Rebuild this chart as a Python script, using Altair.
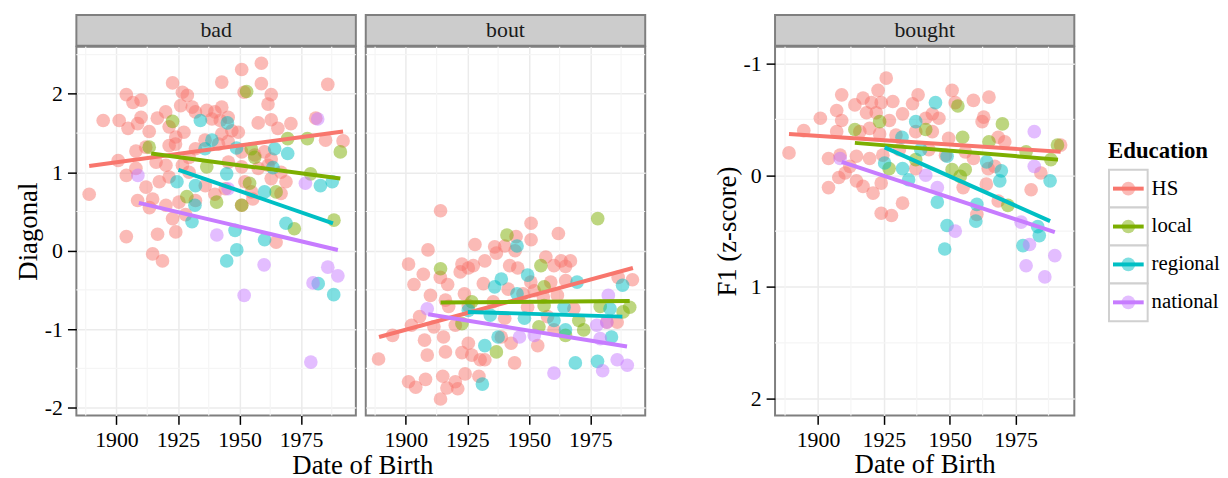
import altair as alt
import pandas as pd

SERIF = "Liberation Serif"

levels = ["HS", "local", "regional", "national"]
colors = ["#F8766D", "#7CAE00", "#00BFC4", "#C77CFF"]

x_domain = [1883.7, 1997.3]
x_ticks = [1900, 1925, 1950, 1975]
x_minor = [1887.5, 1912.5, 1937.5, 1962.5, 1987.5]

diag_domain = [-2.1, 2.6]
diag_ticks = [-2, -1, 0, 1, 2]
diag_minor = [-1.5, -0.5, 0.5, 1.5, 2.5]

f1_domain = [-1.15, 2.15]
f1_ticks = [-1, 0, 1, 2]
f1_minor = [-0.5, 0.5, 1.5]

# ---------------- panel "bad" (Diagonal) ----------------
bad_hs = [(1958.9, 2.39), (1950.9, 2.31), (1942.8, 2.15), (1922.8, 2.14), (1985.9, 2.12), (1958.9, 2.13),
          (1904.0, 1.99), (1926.8, 2.02), (1928.8, 1.98), (1951.9, 2.02), (1962.9, 1.99), (1906.7, 1.89),
          (1910.0, 1.92), (1926.1, 1.85), (1930.8, 1.83), (1961.6, 1.87), (1894.6, 1.66), (1901.1, 1.66),
          (1910.0, 1.70), (1916.6, 1.69), (1920.0, 1.77), (1932.1, 1.77), (1936.7, 1.79), (1940.0, 1.77),
          (1942.8, 1.83), (1945.4, 1.70), (1938.8, 1.68), (1942.2, 1.66), (1904.7, 1.56), (1908.6, 1.62),
          (1913.3, 1.52), (1921.4, 1.58), (1927.4, 1.51), (1924.1, 1.45), (1957.6, 1.63), (1962.9, 1.67),
          (1965.6, 1.56), (1970.9, 1.62), (1981.0, 1.69), (1946.9, 1.53), (1949.5, 1.51), (1942.8, 1.49),
          (1985.0, 1.41), (1992.1, 1.40), (1907.9, 1.27), (1911.9, 1.32), (1921.4, 1.34), (1924.0, 1.36),
          (1932.1, 1.30), (1936.0, 1.41), (1941.5, 1.36), (1945.4, 1.39), (1950.9, 1.26), (1956.2, 1.22),
          (1960.2, 1.26), (1962.9, 1.17), (1900.7, 1.15), (1907.9, 1.05), (1916.1, 1.13), (1920.1, 1.09),
          (1926.8, 1.09), (1929.5, 1.19), (1945.5, 1.13), (1950.9, 1.07), (1957.6, 1.05), (1961.6, 1.09),
          (1966.9, 1.00), (1904.0, 0.96), (1912.0, 0.81), (1917.4, 0.88), (1921.4, 0.94), (1929.5, 1.00),
          (1936.1, 0.83), (1940.0, 0.72), (1944.2, 0.79), (1952.2, 0.88), (1954.9, 0.75), (1962.9, 0.92),
          (1968.9, 0.88), (1966.9, 0.73), (1888.9, 0.72), (1908.6, 0.64), (1914.7, 0.66), (1920.1, 0.58),
          (1925.4, 0.62), (1932.1, 0.64), (1913.4, 0.55), (1922.8, 0.41), (1928.1, 0.46), (1950.9, 0.58),
          (1955.4, 0.66), (1904.0, 0.18), (1916.7, 0.21), (1924.1, 0.24), (1914.7, -0.04), (1918.7, -0.13),
          (1964.9, 0.11)]
bad_local = [(1922.8, 1.65), (1952.9, 2.03), (1969.6, 1.43), (1977.6, 1.43), (1991.0, 1.26), (1954.8, 1.30),
             (1956.2, 1.19), (1936.7, 1.07), (1978.9, 0.98), (1954.1, 0.86), (1964.9, 0.75), (1940.7, 0.62),
             (1928.6, 0.69), (1950.9, 0.58), (1988.4, 0.39), (1972.3, 0.28), (1913.3, 1.32)]
bad_regional = [(1934.1, 1.66), (1945.1, 1.63), (1938.8, 1.41), (1936.0, 1.30), (1948.8, 1.31), (1969.6, 1.24),
                (1964.3, 1.30), (1944.8, 0.98), (1963.6, 1.06), (1924.6, 0.88), (1932.1, 0.83), (1960.2, 0.75),
                (1982.9, 0.83), (1987.7, 0.88), (1931.9, 0.58), (1930.7, 0.37), (1968.9, 0.35), (1948.2, 0.26),
                (1960.2, 0.14), (1948.9, 0.01), (1944.8, -0.13), (1982.0, -0.42), (1988.3, -0.56)]
bad_national = [(1908.7, 0.96), (1981.8, 1.68), (1976.8, 0.86), (1945.4, 0.79), (1940.8, 0.20), (1960.0, -0.18),
                (1985.9, -0.21), (1990.0, -0.32), (1979.9, -0.41), (1951.9, -0.57), (1979.0, -1.42)]
bad_fit_x0 = [1888.9, 1914.1, 1925.2, 1909.1]
bad_fit_x1 = [1992.1, 1991.0, 1988.0, 1990.0]
bad_fit_y0 = [1.08, 1.24, 1.03, 0.61]
bad_fit_y1 = [1.52, 0.92, 0.35, 0.01]

# ---------------- panel "bout" (Diagonal) ----------------
bout_hs = [(1914.1, 0.51), (1950.9, 0.35), (1962.0, 0.22), (1944.8, 0.18), (1950.9, 0.14), (1928.1, 0.08),
           (1936.1, 0.05), (1909.0, 0.01), (1940.2, 0.06), (1936.8, -0.03), (1944.4, 0.00), (1901.1, -0.17),
           (1956.9, -0.08), (1963.1, -0.13), (1966.9, -0.13), (1960.2, -0.19), (1964.9, -0.20), (1932.1, -0.13),
           (1922.8, -0.17), (1925.4, -0.22), (1927.4, -0.19), (1922.1, -0.27), (1942.2, -0.19), (1945.5, -0.22),
           (1907.1, -0.30), (1914.0, -0.34), (1903.3, -0.43), (1917.0, -0.43), (1931.5, -0.42), (1950.8, -0.40),
           (1958.9, -0.40), (1965.0, -0.38), (1986.3, -0.34), (1992.1, -0.37), (1941.6, -0.49), (1947.6, -0.55),
           (1952.2, -0.51), (1910.0, -0.57), (1923.8, -0.55), (1916.1, -0.63), (1935.5, -0.65), (1955.9, -0.59),
           (1961.6, -0.57), (1968.3, -0.74), (1902.3, -0.95), (1905.6, -0.84), (1911.4, -0.97), (1920.1, -0.95),
           (1915.3, -1.10), (1907.6, -1.14), (1894.6, -1.08), (1888.9, -1.38), (1908.7, -1.33), (1916.1, -1.29),
           (1925.4, -1.18), (1922.8, -1.30), (1926.8, -1.33), (1930.2, -1.39), (1932.1, -1.39), (1938.8, -1.10),
           (1942.8, -1.18), (1953.6, -1.21), (1944.2, -1.43), (1960.2, -1.01), (1981.7, -0.91), (1985.9, -0.91),
           (1901.1, -1.67), (1904.0, -1.74), (1908.0, -1.64), (1915.0, -1.60), (1916.7, -1.75), (1920.1, -1.67),
           (1921.1, -1.76), (1924.1, -1.57), (1929.7, -1.60), (1914.1, -1.89), (1917.4, -0.71), (1925.4, -0.70),
           (1940.2, -0.86), (1949.5, -0.72), (1957.6, -0.84)]
bout_local = [(1978.0, 0.41), (1941.1, 0.20), (1954.9, -0.19), (1914.1, -0.23), (1956.2, -0.46), (1926.8, -0.65),
              (1956.2, -0.70), (1979.0, -0.71), (1991.0, -0.72), (1988.3, -0.78), (1970.3, -0.89), (1972.3, -1.01),
              (1964.9, -1.08), (1954.1, -0.97), (1936.8, -1.29), (1922.8, -0.93)]
bout_regional = [(1945.2, 0.06), (1949.5, -0.31), (1938.8, -0.36), (1936.1, -0.46), (1945.2, -0.55), (1969.6, -0.40),
                 (1988.1, -0.44), (1983.0, -0.74), (1964.3, -0.72), (1960.2, -0.89), (1948.2, -0.86), (1934.3, -0.82),
                 (1937.5, -1.10), (1964.9, -1.01), (1983.6, -1.10), (1932.1, -1.21), (1968.9, -1.43), (1977.9, -1.41),
                 (1931.1, -1.70), (1925.4, -0.76)]
bout_national = [(1908.7, -0.74), (1982.3, -0.57), (1977.6, -0.95), (1979.0, -1.12), (1981.7, -0.91), (1960.2, -1.56),
                 (1980.0, -1.53), (1985.9, -1.39), (1990.0, -1.46), (1946.2, -1.10), (1952.2, -1.08)]
bout_fit_x0 = [1889.1, 1914.1, 1925.2, 1909.1]
bout_fit_x1 = [1992.3, 1991.0, 1988.0, 1989.9]
bout_fit_y0 = [-1.10, -0.66, -0.78, -0.81]
bout_fit_y1 = [-0.22, -0.64, -0.84, -1.22]

# ---------------- panel "bought" (F1 z-score, reversed) ----------------
bought_hs = [(1925.9, -0.87), (1909.0, -0.72), (1917.1, -0.69), (1922.8, -0.76), (1920.3, -0.65), (1914.0, -0.63),
             (1924.0, -0.65), (1928.4, -0.66), (1907.1, -0.58), (1900.9, -0.51), (1909.0, -0.49), (1918.4, -0.56),
             (1922.1, -0.56), (1927.1, -0.49), (1932.1, -0.55), (1938.0, -0.72), (1935.9, -0.64), (1940.9, -0.51),
             (1943.4, -0.55), (1945.9, -0.51), (1950.9, -0.76), (1952.1, -0.65), (1959.0, -0.67), (1964.9, -0.70),
             (1962.9, -0.52), (1962.3, -0.48), (1894.6, -0.40), (1889.0, -0.20), (1907.1, -0.39), (1915.9, -0.39),
             (1919.6, -0.42), (1923.4, -0.37), (1929.6, -0.36), (1937.1, -0.39), (1943.4, -0.39), (1949.6, -0.33),
             (1968.4, -0.34), (1970.9, -0.30), (1992.1, -0.27), (1904.0, -0.15), (1908.4, -0.18), (1914.6, -0.17),
             (1919.6, -0.15), (1924.6, -0.18), (1930.9, -0.23), (1942.1, -0.23), (1948.4, -0.18), (1955.9, -0.21),
             (1959.0, -0.15), (1964.6, -0.06), (1967.1, -0.08), (1907.9, 0.02), (1904.0, 0.11), (1914.6, 0.05),
             (1917.1, 0.10), (1920.9, 0.16), (1924.0, 0.07), (1937.1, -0.06), (1955.1, 0.11), (1963.9, 0.08),
             (1980.9, 0.13), (1984.6, -0.02), (1932.1, 0.25), (1924.0, 0.34), (1927.9, 0.36), (1960.3, 0.35),
             (1968.4, 0.23), (1912.1, -0.08), (1910.3, -0.02)]
bought_local = [(1953.1, -0.62), (1970.0, -0.46), (1914.0, -0.41), (1923.4, -0.48), (1940.9, -0.41), (1954.9, -0.34),
                (1964.9, -0.30), (1979.0, -0.21), (1990.9, -0.27), (1988.4, -0.14), (1927.0, -0.06), (1955.9, -0.05),
                (1950.9, -0.05), (1954.0, 0.01), (1937.1, -0.14), (1972.1, 0.27)]
bought_regional = [(1944.6, -0.65), (1937.1, -0.48), (1931.9, -0.34), (1939.0, -0.23), (1949.0, -0.17), (1964.0, -0.12),
                   (1969.6, -0.04), (1969.0, 0.05), (1925.3, -0.11), (1932.1, -0.06), (1934.4, 0.04), (1945.3, 0.24),
                   (1960.3, 0.26), (1949.0, 0.45), (1959.9, 0.41), (1948.1, 0.66), (1977.8, 0.63), (1983.4, 0.46),
                   (1984.0, 0.54), (1988.1, 0.05)]
bought_national = [(1908.4, -0.15), (1982.1, -0.39), (1982.1, -0.08), (1940.9, 0.00), (1945.3, 0.11), (1952.1, 0.50),
                   (1977.1, 0.42), (1980.3, 0.62), (1989.9, 0.72), (1979.0, 0.81), (1986.1, 0.91)]
bought_fit_x0 = [1889.0, 1914.0, 1925.3, 1909.0]
bought_fit_x1 = [1992.1, 1991.1, 1988.1, 1989.9]
bought_fit_y0 = [-0.37, -0.29, -0.25, -0.12]
bought_fit_y1 = [-0.21, -0.14, 0.41, 0.51]


def points_frame(groups):
    rows = []
    for lvl, pairs in zip(levels, groups):
        for yr, val in pairs:
            rows.append({"year": yr, "value": val, "edu": lvl})
    return pd.DataFrame(rows)


def fit_frame(x0, x1, y0, y1):
    rows = []
    for lvl, a, b, c, d in zip(levels, x0, x1, y0, y1):
        rows.append({"year": a, "value": c, "edu": lvl})
        rows.append({"year": b, "value": d, "edu": lvl})
    return pd.DataFrame(rows)


color_enc = alt.Color("edu:N", scale=alt.Scale(domain=levels, range=colors), legend=None)
BORDER = alt.ViewBackground(fill="white", stroke="#7F7F7F", strokeWidth=2)


def panel(pts, fit, ydom, yvals, yminor, reverse, width, ytitle, ylabels, xtitle):
    xa = dict(values=x_ticks, labelExpr="'' + datum.value", grid=True)
    xa["title"] = xtitle if xtitle else None
    x_enc = alt.X("year:Q", scale=alt.Scale(domain=x_domain, nice=False, zero=False), axis=alt.Axis(**xa))
    if ylabels:
        yaxis = alt.Axis(values=yvals, labelExpr="'' + datum.value", title=ytitle, grid=True)
    else:
        yaxis = alt.Axis(values=yvals, labels=False, ticks=False, title=None, grid=True)
    ysc = dict(domain=ydom, nice=False, zero=False)
    if reverse:
        ysc["reverse"] = True
    y_enc = alt.Y("value:Q", scale=alt.Scale(**ysc), axis=yaxis)

    vminor = alt.Chart(pd.DataFrame({"year": x_minor})).mark_rule(color="#F5F5F5", strokeWidth=1.2).encode(x=x_enc)
    hminor = alt.Chart(pd.DataFrame({"value": yminor})).mark_rule(color="#F5F5F5", strokeWidth=1.2).encode(y=y_enc)
    dots = alt.Chart(pts).mark_circle(size=190, opacity=0.5).encode(x=x_enc, y=y_enc, color=color_enc)
    lines = alt.Chart(fit).mark_line(strokeWidth=4, strokeCap="butt").encode(
        x=x_enc, y=y_enc, color=color_enc, detail="edu:N")
    return alt.layer(vminor, hminor, dots, lines).properties(width=width, height=372, view=BORDER)


def strip(name, width):
    return alt.Chart(pd.DataFrame({"label": [name]})).mark_text(
        font=SERIF, fontSize=22, color="#1A1A1A", baseline="middle").encode(text="label:N").properties(
        width=width, height=31,
        view=alt.ViewBackground(fill="#CCCCCC", stroke="#7F7F7F", strokeWidth=2))


p_bad = panel(points_frame([bad_hs, bad_local, bad_regional, bad_national]),
              fit_frame(bad_fit_x0, bad_fit_x1, bad_fit_y0, bad_fit_y1),
              diag_domain, diag_ticks, diag_minor, False, 282, "Diagonal", True, None)
p_bout = panel(points_frame([bout_hs, bout_local, bout_regional, bout_national]),
               fit_frame(bout_fit_x0, bout_fit_x1, bout_fit_y0, bout_fit_y1),
               diag_domain, diag_ticks, diag_minor, False, 282, None, False, None)
p_bought = panel(points_frame([bought_hs, bought_local, bought_regional, bought_national]),
                 fit_frame(bought_fit_x0, bought_fit_x1, bought_fit_y0, bought_fit_y1),
                 f1_domain, f1_ticks, f1_minor, True, 302, "F1 (z-score)", True, "Date of Birth")

# ---------------- manual legend ----------------
legend_df = pd.DataFrame({"edu": levels})
ly = alt.Y("edu:N", sort=levels, scale=alt.Scale(domain=levels, paddingInner=0, paddingOuter=0), axis=None)
lbase = alt.Chart(legend_df)
box = lbase.mark_rect(fill="white", stroke="#D0D0D0", strokeWidth=2).encode(
    y=ly, x=alt.value(0), x2=alt.value(39))
ldot = lbase.mark_circle(size=190, opacity=0.5).encode(y=ly, x=alt.value(19.5), color=color_enc)
lbar = lbase.mark_rule(strokeWidth=4).encode(y=ly, x=alt.value(4), x2=alt.value(35), color=color_enc)
ltxt = lbase.mark_text(align="left", baseline="middle", font=SERIF, fontSize=21, color="black").encode(
    y=ly, x=alt.value(43), text="edu:N")
legend_chart = alt.layer(box, ldot, lbar, ltxt).properties(
    width=39, height=153,
    title=alt.TitleParams("Education", anchor="start", font=SERIF, fontSize=23, fontWeight="bold",
                          color="black", offset=6),
    view=alt.ViewBackground(strokeOpacity=0))
spacer = alt.Chart(pd.DataFrame({"s": [0]})).mark_point(opacity=0).properties(
    width=39, height=126, view=alt.ViewBackground(strokeOpacity=0))
legend_block = alt.vconcat(spacer, legend_chart, spacing=0)

left = alt.hconcat(alt.vconcat(strip("bad", 282), p_bad, spacing=-2),
                   alt.vconcat(strip("bout", 282), p_bout, spacing=-2), spacing=6,
                   title=alt.TitleParams("Date of Birth", orient="bottom", anchor="middle", dx=33,
                                         font=SERIF, fontSize=27, fontWeight="normal", color="black",
                                         offset=2))
right = alt.hconcat(alt.vconcat(strip("bought", 302), p_bought, spacing=-2), legend_block, spacing=32)

chart = alt.hconcat(left, right, spacing=65).properties(
    padding={"left": 5, "top": 4, "right": 0, "bottom": 0}
).configure_axis(
    labelFont=SERIF, labelFontSize=22, labelColor="black",
    titleFont=SERIF, titleFontSize=27, titleFontWeight="normal", titleColor="black",
    tickColor="black", tickWidth=1.5, tickSize=9, labelPadding=5, titlePadding=2,
    gridColor="#EBEBEB", gridWidth=1.5, domain=False)

chart.save("out.html", embed_options={"renderer": "svg", "actions": False})
